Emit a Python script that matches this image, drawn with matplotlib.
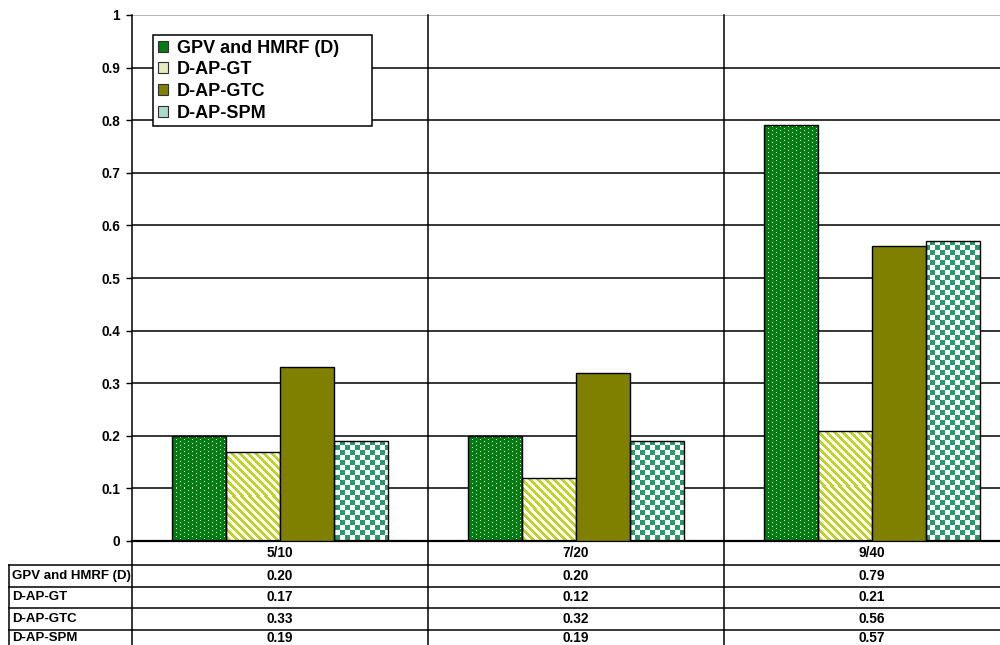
import numpy as np
import matplotlib
matplotlib.use("Agg")
import matplotlib.pyplot as plt
from matplotlib.lines import Line2D
from matplotlib.patches import Patch
from matplotlib.ticker import FuncFormatter
from matplotlib.transforms import blended_transform_factory

# ---- data -------------------------------------------------------------
categories = ["5/10", "7/20", "9/40"]
series_labels = ["GPV and HMRF (D)", "D-AP-GT", "D-AP-GTC", "D-AP-SPM"]
gpv_hmrf_d = [0.20, 0.20, 0.79]
d_ap_gt = [0.17, 0.12, 0.21]
d_ap_gtc = [0.33, 0.32, 0.56]
d_ap_spm = [0.19, 0.19, 0.57]
y_tick_values = [0.0, 0.1, 0.2, 0.3, 0.4, 0.5, 0.6, 0.7, 0.8, 0.9, 1.0]

series_values = [gpv_hmrf_d, d_ap_gt, d_ap_gtc, d_ap_spm]

# ---- styling ----------------------------------------------------------
plt.rcParams["font.family"] = ["Liberation Sans", "DejaVu Sans"]
plt.rcParams["font.weight"] = "bold"

GREEN = np.array([0, 125, 16]) / 255
DOT = np.array([215, 250, 215]) / 255
STRIPE = np.array([190, 212, 40]) / 255
CHECK = np.array([42, 152, 106]) / 255
WHITE = np.ones(3)
OLIVE = "#808000"

W, H = 1000, 645
fig = plt.figure(figsize=(W / 100, H / 100), dpi=100)
fig.patch.set_facecolor("white")


def fx(px):
    return px / W


def fy(py):
    return 1 - py / H


ax_l, ax_r, ax_t, ax_b = 132, 1020, 15, 541
ax = fig.add_axes([fx(ax_l), fy(ax_b), (ax_r - ax_l) / W, (ax_b - ax_t) / H])
ax.set_facecolor("white")

x = np.arange(len(categories))
ax.set_xlim(-0.5, len(categories) - 0.5)
ax.set_ylim(0, 1)

# horizontal rules at every tick above zero
for v in y_tick_values[1:]:
    ax.axhline(v, color="#a0a0a0" if v == y_tick_values[-1] else "black",
               linewidth=1.1, zorder=0.5)

# ---- bars -------------------------------------------------------------
n = len(series_values)
bar_w = 0.182
fills = ["none", "none", OLIVE, "none"]
patterns = ["dots", "stripes", None, "checks"]


def pattern_image(kind, w, h, col0, row0):
    cols = np.arange(w) + col0
    rows = np.arange(h) + row0
    C, R = np.meshgrid(cols, rows)
    img = np.ones((h, w, 3))
    if kind == "dots":
        img[:] = GREEN
        mask = ((R % 4 == 0) & (C % 8 == 0)) | ((R % 4 == 2) & (C % 8 == 4))
        img[mask] = DOT
    elif kind == "stripes":
        img[:] = WHITE
        mask = ((C - R) % 8) < 4
        img[mask] = STRIPE
    elif kind == "checks":
        img[:] = WHITE
        mask = ((C // 5) + (R // 5)) % 2 == 0
        img[mask] = CHECK
    return img


for i, vals in enumerate(series_values):
    offs = (i - (n - 1) / 2) * bar_w
    bars = ax.bar(x + offs, vals, width=bar_w, facecolor=fills[i],
                  edgecolor="black", linewidth=1.0, zorder=3)
    if patterns[i] is None:
        continue
    for rect in bars:
        x0, y0 = rect.get_x(), rect.get_y()
        x1, y1 = x0 + rect.get_width(), y0 + rect.get_height()
        (px0, py0) = ax.transData.transform((x0, y0))
        (px1, py1) = ax.transData.transform((x1, y1))
        wpx = max(int(round(px1 - px0)), 1)
        hpx = max(int(round(py1 - py0)), 1)
        img = pattern_image(patterns[i], wpx, hpx, int(round(px0)), int(round(H - py1)))
        im = ax.imshow(img, extent=(x0, x1, y0, y1), origin="upper",
                       interpolation="nearest", aspect="auto", zorder=2.5)
        im.set_clip_path(rect)

ax.set_xlim(-0.5, len(categories) - 0.5)
ax.set_ylim(0, 1)

# ---- axes -------------------------------------------------------------
for s in ["top", "right"]:
    ax.spines[s].set_visible(False)
ax.spines["left"].set_linewidth(1.1)
ax.spines["bottom"].set_linewidth(1.6)
ax.set_xticks([])
ax.set_yticks(y_tick_values)
ax.yaxis.set_major_formatter(FuncFormatter(lambda v, p: f"{v:g}"))
ax.tick_params(axis="y", direction="out", length=4.5, width=1.0, pad=4,
               labelsize=9.8, colors="black")

# ---- data table below the plot ---------------------------------------
table_bottom = 660
xfig = blended_transform_factory(ax.transData, fig.transFigure)
xax = ax.get_xaxis_transform()
y_ext = -(table_bottom - ax_b) / (ax_b - ax_t)

# category separators and the left edge run through the table
for b in np.concatenate([[-0.5], x[:-1] + 0.5]):
    y_start = 0 if b == -0.5 else 1
    ax.add_line(Line2D([b, b], [y_start, y_ext], transform=xax, color="black",
                       linewidth=1.1, clip_on=False, zorder=4))

header_mid = 553
row_edges = [565, 586.5, 608, 629.5, 646]
label_left = 9

for ye in row_edges[:-1]:
    fig.add_artist(Line2D([fx(label_left), 1.0], [fy(ye), fy(ye)],
                          color="black", linewidth=1.1))
fig.add_artist(Line2D([fx(label_left), fx(label_left)], [fy(row_edges[0]), 0],
                      color="black", linewidth=1.1))

for xi, cat in zip(x, categories):
    ax.text(xi, fy(header_mid), cat, transform=xfig, ha="center", va="center",
            fontsize=9.8)

for r, (lab, vals) in enumerate(zip(series_labels, series_values)):
    yc = (row_edges[r] + row_edges[r + 1]) / 2
    fig.text(fx(12), fy(yc), lab, ha="left", va="center", fontsize=9.5)
    for xi, v in zip(x, vals):
        ax.text(xi, fy(yc), f"{v:.2f}", transform=xfig, ha="center",
                va="center", fontsize=9.8)

# ---- legend -----------------------------------------------------------
handles = [
    Patch(facecolor=GREEN, edgecolor="#303030", linewidth=0.8),
    Patch(facecolor="#e6ebbf", edgecolor="#303030", linewidth=0.8),
    Patch(facecolor=OLIVE, edgecolor="#303030", linewidth=0.8),
    Patch(facecolor="#a8dcc8", edgecolor="#303030", linewidth=0.8),
]
leg = fig.legend(handles, series_labels, loc="upper left",
                 bbox_to_anchor=(fx(153), fy(127), fx(372) - fx(153), fy(35) - fy(127)),
                 bbox_transform=fig.transFigure, mode="expand",
                 frameon=True, fancybox=False, framealpha=1, edgecolor="black",
                 borderaxespad=0, borderpad=0.25, labelspacing=0.26,
                 handlelength=0.58, handleheight=0.58, handletextpad=0.5,
                 prop={"size": 13, "weight": "bold"})
leg.get_frame().set_linewidth(1.1)

fig.savefig("out.png", dpi=100)
